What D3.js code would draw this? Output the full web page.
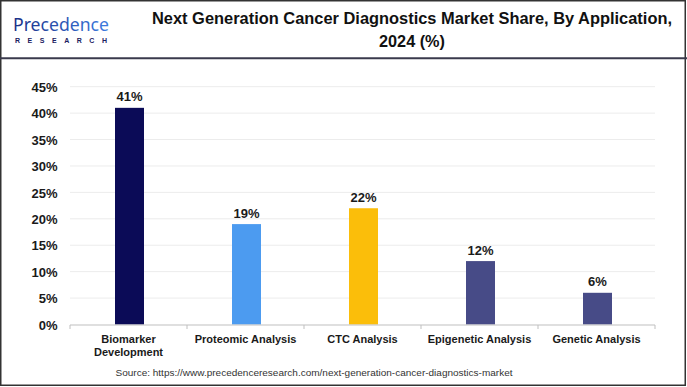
<!DOCTYPE html>
<html><head><meta charset="utf-8">
<script src="https://cdn.jsdelivr.net/npm/d3@7"></script>
<style>body{margin:0;background:#fff}svg{display:block}</style>
</head><body>
<svg id="chart" width="687" height="387"></svg>
<script>
const categories = [["Biomarker","Development"],["Proteomic Analysis"],["CTC Analysis"],["Epigenetic Analysis"],["Genetic Analysis"]];
const values = [41, 19, 22, 12, 6];
const barColors = ["#0b0b57", "#4c9bf0", "#fbbe0a", "#474b87", "#474b87"];
const yTicks = [0, 5, 10, 15, 20, 25, 30, 35, 40, 45];
const titleLines = ["Next Generation Cancer Diagnostics Market Share, By Application,", "2024 (%)"];
const sourceText = "Source: https://www.precedenceresearch.com/next-generation-cancer-diagnostics-market";

const svg = d3.select("#chart");
const W = 687, H = 387;
const M = {left: 70, right: 655, top: 86.7, bottom: 324.5};

svg.append("rect").attr("x",0).attr("y",0).attr("width",W).attr("height",H).attr("fill","#fff");

// frame
svg.append("rect").attr("x",0.75).attr("y",0.75).attr("width",684.5).attr("height",384.5)
  .attr("fill","none").attr("stroke","#333").attr("stroke-width",1.5);
svg.append("line").attr("x1",0).attr("x2",W).attr("y1",58.3).attr("y2",58.3)
  .attr("stroke","#3a3a4c").attr("stroke-width",2);

// logo
const defs = svg.append("defs");
const g = defs.append("linearGradient").attr("id","lg").attr("x1","0").attr("x2","1").attr("y1","0").attr("y2","0");
g.append("stop").attr("offset","0%").attr("stop-color","#1b2f86");
g.append("stop").attr("offset","100%").attr("stop-color","#3d7be0");
svg.append("text").attr("x",13).attr("y",30.5).attr("font-family","'Noto Sans', sans-serif")
  .attr("font-size",18).attr("fill","url(#lg)").attr("textLength",96).attr("lengthAdjust","spacingAndGlyphs")
  .text("Precedence");
svg.append("text").attr("x",15).attr("y",42.5).attr("font-family","'Liberation Sans', sans-serif")
  .attr("font-weight","bold").attr("font-size",7).attr("fill","#1a2060").attr("textLength",92)
  .attr("lengthAdjust","spacing").text("RESEARCH");

// title
svg.append("text").attr("x",412).attr("y",23.5).attr("text-anchor","middle")
  .attr("font-family","'Liberation Sans Narrow','Liberation Sans',sans-serif").attr("font-weight","bold")
  .attr("font-size",16.5).attr("fill","#111").attr("textLength",520).attr("lengthAdjust","spacingAndGlyphs")
  .text(titleLines[0]);
svg.append("text").attr("x",412).attr("y",47).attr("text-anchor","middle")
  .attr("font-family","'Liberation Sans Narrow','Liberation Sans',sans-serif").attr("font-weight","bold")
  .attr("font-size",16.5).attr("fill","#111").attr("textLength",66).attr("lengthAdjust","spacingAndGlyphs")
  .text(titleLines[1]);

// scales
const x = d3.scaleBand().domain(d3.range(categories.length)).range([M.left, M.right]).padding(0);
const y = d3.scaleLinear().domain([0,45]).range([M.bottom, M.top]);

// gridlines
svg.append("g").selectAll("line").data(yTicks.filter(d=>d>0)).join("line")
  .attr("x1",M.left).attr("x2",M.right).attr("y1",d=>y(d)).attr("y2",d=>y(d))
  .attr("stroke","#ececec").attr("stroke-width",1);

// y axis labels
const yAxis = d3.axisLeft(y).tickValues(yTicks).tickFormat(d=>d+"%").tickSize(0).tickPadding(0);
const ya = svg.append("g").attr("transform","translate(57.5,0)").call(yAxis);
ya.select(".domain").remove();
ya.selectAll("text").attr("font-family","'Liberation Sans',Arial,sans-serif").attr("font-weight","bold")
  .attr("font-size",13).attr("fill","#1a1a1a").attr("dy","0.36em");

// bars
const bw = 29;
svg.append("g").selectAll("rect").data(values).join("rect")
  .attr("x",(d,i)=>x(i)+x.bandwidth()/2-bw/2+1).attr("width",bw)
  .attr("y",d=>y(d)).attr("height",d=>y(0)-y(d)).attr("fill",(d,i)=>barColors[i]);

// value labels
svg.append("g").selectAll("text").data(values).join("text")
  .attr("x",(d,i)=>x(i)+x.bandwidth()/2+1).attr("y",d=>y(d)-6.5).attr("text-anchor","middle")
  .attr("font-family","'Liberation Sans',Arial,sans-serif").attr("font-weight","bold")
  .attr("font-size",13).attr("fill","#1a1a1a").text(d=>d+"%");

// x axis
svg.append("line").attr("x1",M.left).attr("x2",M.right).attr("y1",M.bottom+0.5).attr("y2",M.bottom+0.5)
  .attr("stroke","#bfbfbf").attr("stroke-width",1.2);
const bounds = d3.range(categories.length+1).map(i=> i<categories.length ? x(i) : M.right);
svg.append("g").selectAll("line").data(bounds).join("line")
  .attr("x1",d=>d).attr("x2",d=>d).attr("y1",M.bottom+0.5).attr("y2",M.bottom+4.5)
  .attr("stroke","#bfbfbf").attr("stroke-width",1);

// category labels
const cl = svg.append("g").selectAll("text").data(categories).join("text")
  .attr("x",(d,i)=>x(i)+x.bandwidth()/2).attr("y",342.7).attr("text-anchor","middle")
  .attr("font-family","'Liberation Sans',Arial,sans-serif").attr("font-weight","bold")
  .attr("font-size",11).attr("fill","#1a1a1a");
cl.each(function(d){
  d3.select(this).selectAll("tspan").data(d).join("tspan")
    .attr("x",d3.select(this).attr("x")).attr("dy",(t,j)=>j===0?0:13.5).text(t=>t);
});

// source
svg.append("text").attr("x",314).attr("y",376).attr("text-anchor","middle")
  .attr("font-family","'Liberation Sans',Arial,sans-serif").attr("font-size",9.5)
  .attr("fill","#333").attr("textLength",397).attr("lengthAdjust","spacingAndGlyphs")
  .text(sourceText);
</script>
</body></html>
